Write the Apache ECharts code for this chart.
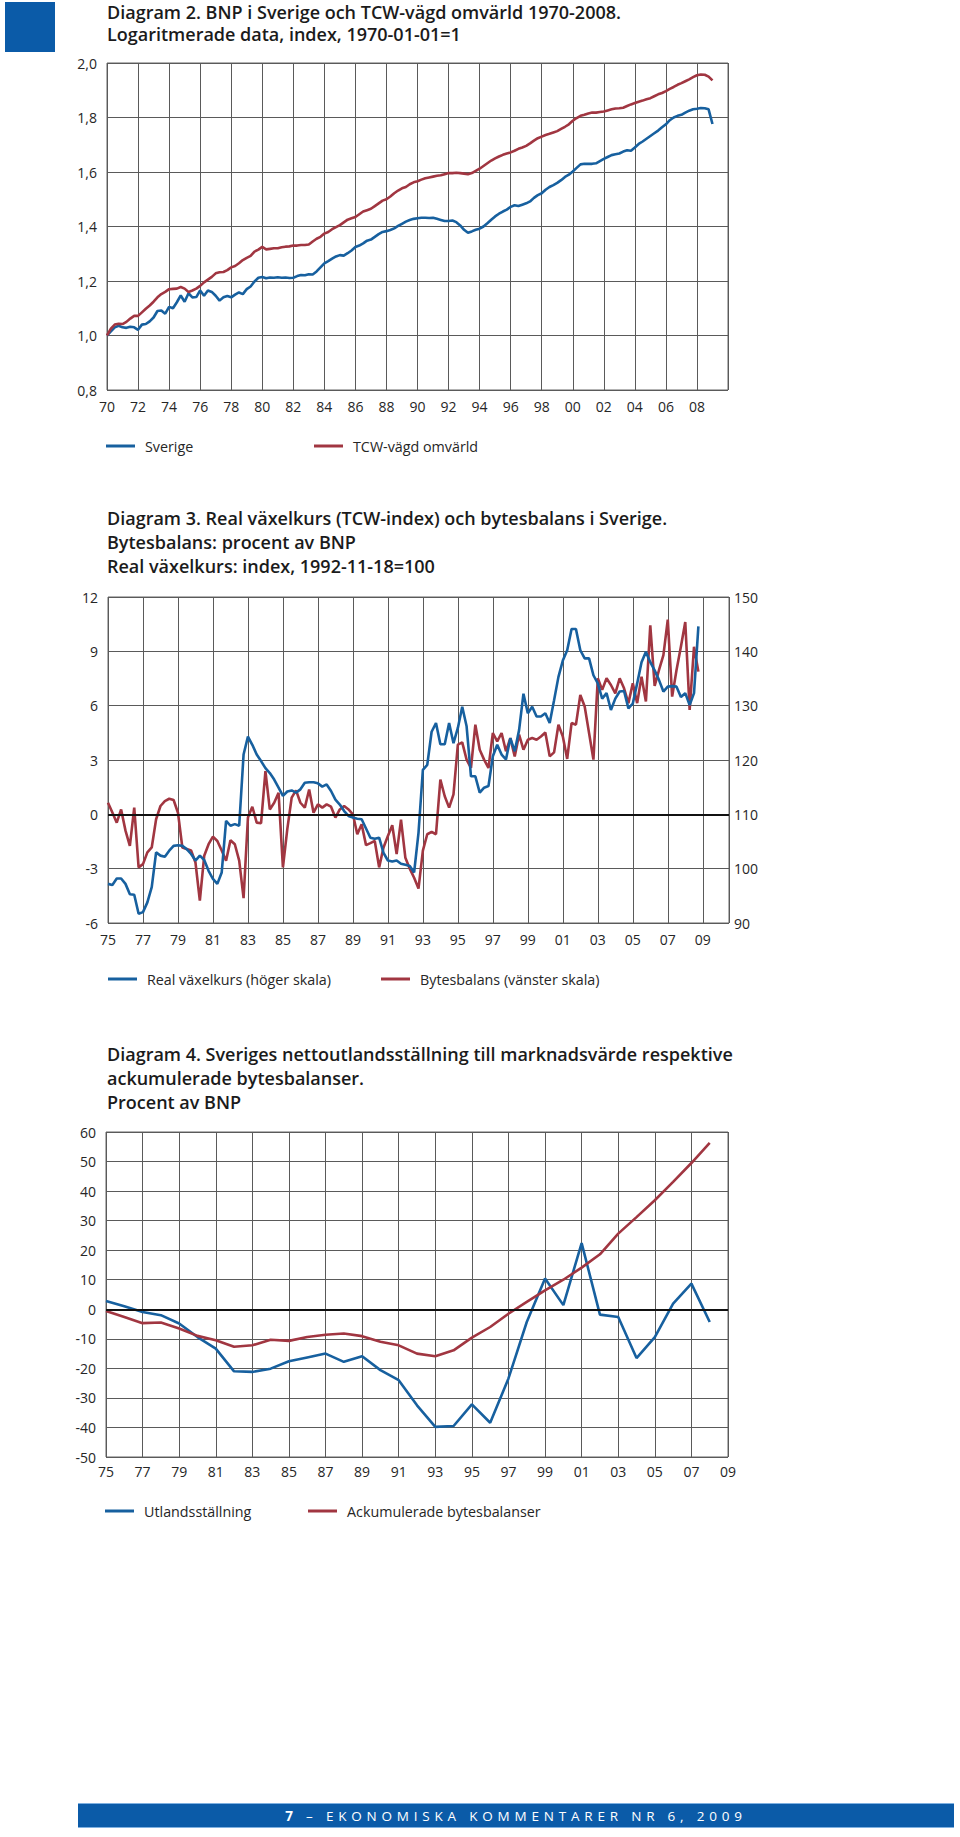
<!DOCTYPE html>
<html><head><meta charset="utf-8">
<script src="https://cdn.jsdelivr.net/npm/echarts@6/dist/echarts.min.js"></script>
<style>
html,body{margin:0;padding:0;background:#fff;}
#chart{position:absolute;left:0;top:0;width:960px;height:1837px;}
#footer{position:absolute;left:78px;top:1803px;width:876px;height:25px;background:#0b5ba8;color:#fff;font-family:'Open Sans',sans-serif;font-size:13.5px;letter-spacing:4.8px;line-height:25px;text-align:center;box-sizing:border-box;border-top:1px solid #7fb0e0;border-bottom:1px solid #7fb0e0;}
</style></head><body>
<div id="chart"></div>
<div id="footer"><b>7</b> – EKONOMISKA KOMMENTARER NR 6, 2009</div>
<script>
// ---------- Diagram 2: quarterly, 1970Q1 ... 2009Q1 ----------
const d2StartYear = 1970;
const sverige = [
1.000,1.015,1.030,1.036, 1.030,1.028,1.032,1.030, 1.021,1.040,1.042,1.052, 1.066,1.090,1.092,1.080,
1.105,1.100,1.122,1.147, 1.124,1.155,1.140,1.141, 1.165,1.146,1.165,1.160, 1.146,1.128,1.140,1.145,
1.140,1.150,1.158,1.152, 1.170,1.180,1.198,1.212, 1.215,1.210,1.213,1.212, 1.214,1.212,1.213,1.211,
1.212,1.218,1.222,1.221, 1.225,1.224,1.235,1.250, 1.265,1.273,1.282,1.290, 1.295,1.293,1.302,1.312,
1.325,1.330,1.338,1.348, 1.352,1.362,1.372,1.380, 1.383,1.387,1.393,1.402, 1.410,1.418,1.424,1.428,
1.430,1.432,1.432,1.431, 1.432,1.428,1.424,1.420, 1.420,1.422,1.416,1.404, 1.388,1.377,1.382,1.388,
1.392,1.400,1.412,1.425, 1.437,1.447,1.455,1.462, 1.472,1.478,1.475,1.480, 1.485,1.492,1.505,1.515,
1.522,1.535,1.545,1.552, 1.560,1.570,1.582,1.590, 1.602,1.615,1.628,1.630, 1.630,1.630,1.632,1.640,
1.648,1.655,1.662,1.665, 1.668,1.675,1.680,1.678, 1.690,1.703,1.712,1.722, 1.732,1.742,1.752,1.764,
1.775,1.790,1.800,1.806, 1.810,1.818,1.825,1.830, 1.832,1.835,1.834,1.830, 1.776];
const tcw = [
1.000,1.025,1.040,1.043, 1.042,1.050,1.062,1.072, 1.072,1.085,1.098,1.110, 1.124,1.140,1.152,1.160,
1.170,1.171,1.172,1.178, 1.172,1.160,1.165,1.172, 1.182,1.195,1.205,1.215, 1.228,1.232,1.233,1.240,
1.250,1.255,1.265,1.277, 1.285,1.292,1.308,1.315, 1.325,1.316,1.318,1.320, 1.320,1.324,1.326,1.327,
1.330,1.330,1.332,1.332, 1.334,1.345,1.355,1.362, 1.374,1.380,1.390,1.398, 1.405,1.415,1.425,1.430,
1.435,1.445,1.455,1.460, 1.465,1.475,1.485,1.495, 1.500,1.510,1.522,1.532, 1.540,1.545,1.555,1.562,
1.566,1.572,1.577,1.580, 1.583,1.586,1.588,1.592, 1.596,1.596,1.597,1.596, 1.594,1.592,1.596,1.604,
1.612,1.622,1.632,1.642, 1.650,1.657,1.663,1.668, 1.672,1.678,1.685,1.690, 1.696,1.705,1.715,1.724,
1.730,1.736,1.740,1.745, 1.750,1.758,1.766,1.775, 1.788,1.798,1.806,1.810, 1.815,1.818,1.818,1.820,
1.822,1.826,1.830,1.833, 1.834,1.836,1.842,1.848, 1.853,1.858,1.862,1.867, 1.871,1.878,1.885,1.890,
1.897,1.905,1.912,1.920, 1.926,1.933,1.940,1.948, 1.955,1.958,1.957,1.950, 1.936];

// ---------- Diagram 3: quarterly, 1975Q1 ... 2008Q4 ----------
const d3StartYear = 1975;
const realVaxelkurs = [
97.2,97.0,98.2,98.2, 97.2,95.3,95.2,91.7, 92.0,93.8,96.6,103.0, 102.4,102.2,103.3,104.2,
104.3,104.2,103.6,102.7, 101.5,102.4,101.6,99.6, 98.1,97.2,99.3,108.8, 107.9,108.2,107.9,121.0,
124.3,122.8,121.0,119.8, 118.5,117.6,116.4,114.9, 113.4,114.2,114.4,114.0, 114.6,115.8,115.9,115.9,
115.7,115.1,115.5,114.3, 112.7,111.8,110.6,109.7, 109.4,109.2,109.1,107.4, 105.7,105.5,105.7,102.9,
101.5,101.3,101.5,100.9, 100.7,100.5,99.3,106.6, 118.2,119.1,125.2,126.8, 122.9,122.9,126.8,123.1,
125.9,129.8,126.2,117.0, 117.0,114.0,114.9,115.2, 120.7,122.8,121.0,120.1, 124.0,121.6,125.5,132.2,
128.6,129.8,128.0,128.0, 128.6,126.8,131.0,135.3, 138.3,140.2,144.1,144.1, 140.2,138.7,138.7,135.6,
134.1,131.3,132.3,129.2, 131.3,132.6,132.7,129.5, 130.4,134.1,138.0,139.9, 138.0,136.5,134.7,132.6,
133.5,133.6,133.5,131.6, 132.3,130.1,132.3,144.6];
const bytesbalans = [
0.64,0.10,-0.46,0.27, -0.90,-1.74,0.37,-2.93, -2.75,-2.10,-1.83,-0.27, 0.46,0.73,0.86,0.79,
0.09,-1.83,-1.92,-2.00, -2.66,-4.76,-2.29,-1.65, -1.23,-1.47,-2.00,-2.56, -1.43,-1.65,-2.56,-4.63,
-0.18,0.42,-0.46,-0.49, 2.38,0.27,0.64,1.19, -2.93,-0.82,0.92,1.32, 0.64,0.37,1.37,0.09,
0.55,0.37,0.55,0.42, -0.18,0.27,0.46,0.27, 0.00,-1.10,-0.55,-1.70, -1.59,-1.47,-2.93,-1.83,
-1.20,-0.60,-2.20,-0.30, -2.40,-3.00,-3.50,-4.10, -2.00,-1.10,-0.97,-1.10, 1.92,1.00,0.37,1.10,
3.85,3.97,3.02,2.56, 4.95,3.57,3.02,2.56, 4.49,4.03,4.49,3.48, 4.21,3.20,4.40,3.57,
4.12,4.21,4.12,4.30, 4.52,3.20,3.42,4.95, 4.30,3.06,5.04,4.95, 6.59,5.95,4.49,3.02,
7.51,6.87,7.51,7.14, 6.68,7.51,6.96,6.14, 7.23,6.14,7.60,6.23, 10.44,7.09,7.97,8.79,
10.75,6.50,7.97,9.25, 10.62,5.77,9.25,7.88];

// ---------- Diagram 4: annual, 1975 ... 2008 ----------
const d4Years = [1975,1976,1977,1978,1979,1980,1981,1982,1983,1984,1985,1986,1987,1988,1989,1990,1991,
1992,1993,1994,1995,1996,1997,1998,1999,2000,2001,2002,2003,2004,2005,2006,2007,2008];
const utlandsstallning = [2.8,1.0,-0.9,-2.0,-4.8,-9.4,-13.3,-21.0,-21.2,-20.1,-17.6,-16.3,-15.0,-17.8,-15.9,-20.6,-24.0,
-32.5,-39.8,-39.5,-32.2,-38.4,-23.4,-4.3,10.4,1.4,22.4,-1.8,-2.6,-16.5,-9.4,1.9,8.7,-4.3];
const ackumulerade = [-0.6,-2.6,-4.7,-4.5,-6.5,-9.0,-10.5,-12.7,-12.2,-10.3,-10.7,-9.4,-8.6,-8.2,-9.1,-11.0,-12.2,
-15.0,-15.9,-13.9,-9.6,-6.0,-1.5,2.5,6.4,10.0,14.1,18.6,25.6,31.2,36.9,43.1,49.5,56.3];

const BLUE = '#17609f', RED = '#a13641', GRID = '#5a5a5a', TXT = '#262626';
const FONT = "'Open Sans', sans-serif";

// x axes run in "years since base year" so ticks begin exactly at the first label
const q = (start, base, arr) => arr.map((v, i) => [start + i / 4 - base, v]);
const a = (years, base, arr) => arr.map((v, i) => [years[i] - base, v]);
const yy = (base, lastLabel) => v => (Number.isInteger(v) && v % 2 === 0 && v <= lastLabel) ? String((base + v) % 100).padStart(2, '0') : '';

const labelStyle = { color: TXT, fontSize: 14, fontFamily: FONT };
const split = { show: true, lineStyle: { color: GRID, width: 1 } };

function xAx(gridIndex, max, base, lastLabel, margin) {
  return { type: 'value', gridIndex, min: 0, max, interval: 2,
    axisLine: { show: false }, axisTick: { show: false }, splitLine: split,
    axisLabel: Object.assign({ margin, formatter: yy(base, lastLabel), showMinLabel: true, showMaxLabel: true, hideOverlap: false }, labelStyle) };
}
function yAx(gridIndex, min, max, interval, opts) {
  return Object.assign({ type: 'value', gridIndex, min, max, interval,
    axisLine: { show: false }, axisTick: { show: false }, splitLine: split,
    axisLabel: Object.assign({ margin: 10 }, labelStyle) }, opts || {});
}
const zeroLine = { silent: true, symbol: ['none', 'none'], label: { show: false },
  lineStyle: { color: '#111', width: 2, type: 'solid' }, data: [{ yAxis: 0 }] };
function line(name, color, xi, yi, data, extra) {
  return Object.assign({ name, type: 'line', xAxisIndex: xi, yAxisIndex: yi, data, showSymbol: false, symbol: 'none',
    lineStyle: { color, width: 2.6 }, itemStyle: { color }, animation: false }, extra || {});
}
function txt(t, x, cy) {
  return { type: 'text', left: x, top: cy - 10, style: { text: t, font: "600 18px 'Open Sans', sans-serif", fill: '#1b1b1b' } };
}
function leg(name, left, cy) {
  return { data: [name], left, top: cy - 8, padding: 0, icon: 'rect', itemWidth: 29, itemHeight: 3,
    textStyle: { color: TXT, fontSize: 14.3, fontFamily: FONT, padding: [0, 0, 0, 5] }, selectedMode: false };
}

const chart = echarts.init(document.getElementById('chart'), null, { renderer: 'svg' });
chart.setOption({
  animation: false,
  backgroundColor: '#fff',
  grid: [
    { left: 107, top: 63, width: 621, height: 327, show: true, borderColor: '#666', borderWidth: 1, containLabel: false, outerBoundsMode: 'none' },
    { left: 108, top: 597, width: 621, height: 326, show: true, borderColor: '#666', borderWidth: 1, containLabel: false, outerBoundsMode: 'none' },
    { left: 106, top: 1132, width: 622, height: 325, show: true, borderColor: '#666', borderWidth: 1, containLabel: false, outerBoundsMode: 'none' }
  ],
  xAxis: [
    xAx(0, 40, d2StartYear, 38, 9),
    xAx(1, 35.5, d3StartYear, 34, 9),
    xAx(2, 34, d3StartYear, 34, 7)
  ],
  yAxis: [
    yAx(0, 0.8, 2.0, 0.2, { axisLabel: Object.assign({ margin: 10, formatter: v => v.toFixed(1).replace('.', ',') }, labelStyle) }),
    yAx(1, -6, 12, 3),
    yAx(1, 90, 150, 10, { position: 'right', splitLine: { show: false }, axisLabel: Object.assign({ margin: 5 }, labelStyle) }),
    yAx(2, -50, 60, 10)
  ],
  legend: [
    leg('Sverige', 106, 447), leg('TCW-vägd omvärld', 314, 447),
    leg('Real växelkurs (höger skala)', 108, 980), leg('Bytesbalans (vänster skala)', 381, 980),
    leg('Utlandsställning', 105, 1512), leg('Ackumulerade bytesbalanser', 308, 1512)
  ],
  graphic: [
    { type: 'rect', left: 5, top: 2, shape: { width: 50, height: 50 }, style: { fill: '#0b5ba8' } },
    txt('Diagram 2. BNP i Sverige och TCW-vägd omvärld 1970-2008.', 107, 12.5),
    txt('Logaritmerade data, index, 1970-01-01=1', 107, 35),
    txt('Diagram 3. Real växelkurs (TCW-index) och bytesbalans i Sverige.', 107, 519),
    txt('Bytesbalans: procent av BNP', 107, 543),
    txt('Real växelkurs: index, 1992-11-18=100', 107, 567),
    txt('Diagram 4. Sveriges nettoutlandsställning till marknadsvärde respektive', 107, 1055),
    txt('ackumulerade bytesbalanser.', 107, 1079),
    txt('Procent av BNP', 107, 1103)
  ],
  series: [
    line('Sverige', BLUE, 0, 0, q(d2StartYear, d2StartYear, sverige)),
    line('TCW-vägd omvärld', RED, 0, 0, q(d2StartYear, d2StartYear, tcw)),
    line('Real växelkurs (höger skala)', BLUE, 1, 2, q(d3StartYear, d3StartYear, realVaxelkurs), { z: 4 }),
    line('Bytesbalans (vänster skala)', RED, 1, 1, q(d3StartYear, d3StartYear, bytesbalans), { z: 3, markLine: zeroLine }),
    line('Utlandsställning', BLUE, 2, 3, a(d4Years, d3StartYear, utlandsstallning), { z: 3, markLine: zeroLine }),
    line('Ackumulerade bytesbalanser', RED, 2, 3, a(d4Years, d3StartYear, ackumulerade), { z: 4 })
  ]
});
</script>
</body></html>
